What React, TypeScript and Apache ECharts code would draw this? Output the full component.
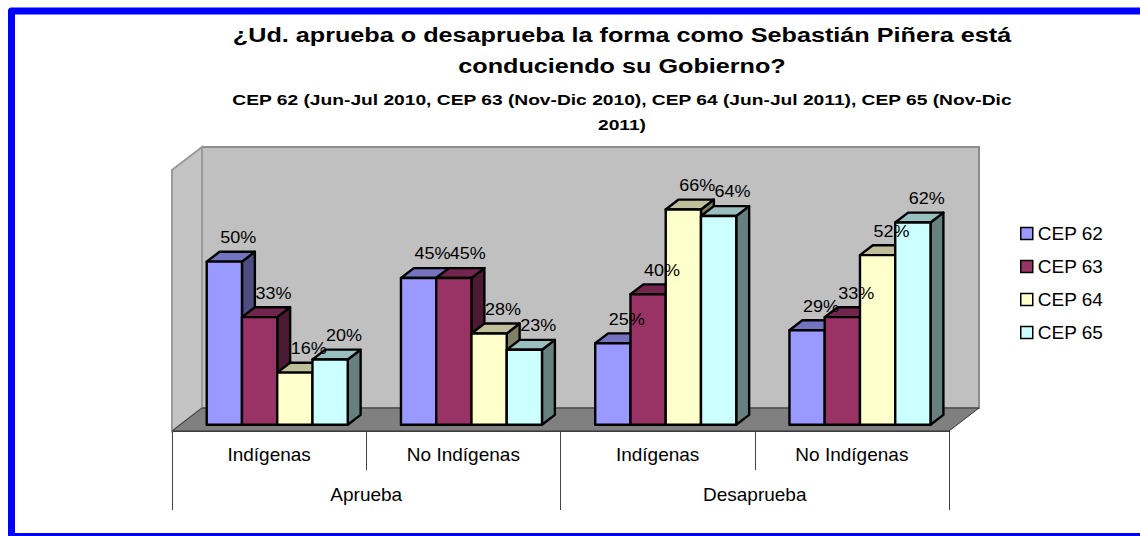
import React, { useEffect, useRef } from 'react';
import * as echarts from 'echarts';

const categories = ['Indígenas', 'No Indígenas', 'Indígenas', 'No Indígenas'];
const groups = ['Aprueba', 'Desaprueba'];
const seriesNames = ['CEP 62', 'CEP 63', 'CEP 64', 'CEP 65'];
const cep62 = [50, 45, 25, 29];
const cep63 = [33, 45, 40, 33];
const cep64 = [16, 28, 66, 52];
const cep65 = [20, 23, 64, 62];
const titleLines = ['¿Ud. aprueba o desaprueba la forma como Sebastián Piñera está', 'conduciendo su Gobierno?'];
const subtitleLines = ['CEP 62 (Jun-Jul 2010, CEP 63 (Nov-Dic 2010), CEP 64 (Jun-Jul 2011), CEP 65 (Nov-Dic', '2011)'];

const seriesValues = [cep62, cep63, cep64, cep65];
const faceColors = [
  { front: '#9999FF', top: '#7373BF', side: '#4D4D80' },
  { front: '#993366', top: '#73264D', side: '#4D1A33' },
  { front: '#FFFFCC', top: '#BFBF99', side: '#808066' },
  { front: '#CCFFFF', top: '#99BFBF', side: '#668080' },
];

const FONT = '"Liberation Sans", Arial, Helvetica, sans-serif';
const DEPTH_X = 30;
const DEPTH_Y = 23;
const FRONT_FRAC = 0.27;
const BAR_DEPTH_FRAC = 0.43;
const BAR_FRAC = 0.1815;

function wallsRender(params: any) {
  const cs = params.coordSys;
  const L = cs.x, T = cs.y, R = cs.x + cs.width, B = cs.y + cs.height;
  const dx = DEPTH_X, dy = DEPTH_Y;
  return {
    type: 'group',
    children: [
      {
        type: 'polygon',
        shape: { points: [[L + dx, T - dy], [R + dx, T - dy], [R + dx, B - dy], [L + dx, B - dy]] },
        style: { fill: '#C0C0C0', stroke: '#8C8C8C', lineWidth: 2 },
      },
      {
        type: 'polygon',
        shape: { points: [[L, T], [L + dx, T - dy], [L + dx, B - dy], [L, B]] },
        style: { fill: '#C4C4C4', stroke: '#9A9A9A', lineWidth: 2 },
      },
      {
        type: 'polygon',
        shape: { points: [[L, B], [L + dx, B - dy], [R + dx, B - dy], [R, B]] },
        style: { fill: '#808080', stroke: '#333', lineWidth: 1 },
      },
    ],
  };
}

function makeBarRender(s: number) {
  const col = faceColors[s];
  return function (params: any, api: any) {
    const cat = api.value(0);
    const v = api.value(1);
    const base = api.coord([cat, 0]);
    const top = api.coord([cat, v]);
    const cw = api.size([1, 0])[0];
    const bw = cw * BAR_FRAC;
    const fx = FRONT_FRAC * DEPTH_X;
    const fy = FRONT_FRAC * DEPTH_Y;
    const bdx = BAR_DEPTH_FRAC * DEPTH_X;
    const bdy = BAR_DEPTH_FRAC * DEPTH_Y;
    const x0 = base[0] - 2 * bw + s * bw + fx;
    const x1 = x0 + bw;
    const yb = base[1] - fy;
    const yt = top[1] - fy;
    const stroke = { stroke: '#000', lineWidth: 2.4, lineJoin: 'round' };
    return {
      type: 'group',
      children: [
        {
          type: 'polygon',
          shape: { points: [[x1, yt], [x1 + bdx, yt - bdy], [x1 + bdx, yb - bdy], [x1, yb]] },
          style: { fill: col.side, ...stroke },
        },
        {
          type: 'polygon',
          shape: { points: [[x0, yt], [x0 + bdx, yt - bdy], [x1 + bdx, yt - bdy], [x1, yt]] },
          style: { fill: col.top, ...stroke },
        },
        {
          type: 'rect',
          shape: { x: x0, y: yt, width: bw, height: yb - yt },
          style: { fill: col.front, ...stroke },
        },
        {
          type: 'text',
          x: (x0 + x1) / 2 + 14,
          y: yt - bdy - 6,
          scaleX: 1.06,
          z2: 100,
          style: {
            text: v + '%',
            fontSize: 17,
            fontFamily: FONT,
            fill: '#000',
            align: 'center',
            verticalAlign: 'bottom',
            textAlign: 'center',
            textVerticalAlign: 'bottom',
          },
        },
      ],
    };
  };
}

export default function App() {
  const ref = useRef<HTMLDivElement>(null);
  useEffect(() => {
    if (!ref.current) return;
    const chart = echarts.init(ref.current, undefined, { renderer: 'svg' });
    const titleText = (text: string, y: number, size: number, sx: number) => ({
      type: 'text',
      x: 622,
      y,
      scaleX: sx,
      style: {
        text,
        fontSize: size,
        fontWeight: 'bold',
        fontFamily: FONT,
        fill: '#000',
        align: 'center',
        verticalAlign: 'middle',
        textAlign: 'center',
        textVerticalAlign: 'middle',
      },
    });
    const option: any = {
      animation: false,
      backgroundColor: '#fff',
      graphic: [
        {
          type: 'rect',
          shape: { x: 11.5, y: 11, width: 1170, height: 525.5 },
          style: { fill: 'none', stroke: '#0000FF', lineWidth: 7, lineJoin: 'round' },
          z: 100,
        },
        titleText(titleLines[0], 35, 21, 1.2),
        titleText(titleLines[1], 66, 21, 1.2),
        titleText(subtitleLines[0], 100, 15, 1.28),
        titleText(subtitleLines[1], 125, 15, 1.28),
      ],
      grid: { left: 172, top: 170, width: 777, height: 261 },
      legend: {
        orient: 'vertical',
        left: 1015,
        top: 219,
        itemWidth: 12,
        itemHeight: 12,
        itemGap: 14,
        icon: 'rect',
        itemStyle: { borderColor: '#000', borderWidth: 1.5 },
        textStyle: { fontSize: 19, color: '#000', fontFamily: FONT },
        data: seriesNames,
      },
      xAxis: [
        {
          type: 'category',
          data: categories,
          position: 'bottom',
          offset: 0,
          axisLine: { show: true, lineStyle: { color: '#444', width: 1 } },
          axisTick: { show: true, length: 39, lineStyle: { color: '#444', width: 1 } },
          axisLabel: { margin: 14, fontSize: 19, color: '#000', fontFamily: FONT },
          splitLine: { show: false },
        },
        {
          type: 'category',
          data: groups,
          position: 'bottom',
          offset: 0,
          axisLine: { show: false },
          axisTick: { show: true, length: 79, lineStyle: { color: '#444', width: 1 } },
          axisLabel: { margin: 54, fontSize: 19, color: '#000', fontFamily: FONT },
          splitLine: { show: false },
        },
      ],
      yAxis: { type: 'value', min: 0, max: 80, show: false },
      series: [
        {
          type: 'custom',
          name: 'walls',
          z: 1,
          silent: true,
          clip: false,
          xAxisIndex: 0,
          yAxisIndex: 0,
          renderItem: wallsRender,
          data: [[0, 0]],
        },
        ...seriesNames.map((name, s) => ({
          type: 'custom',
          name,
          z: 2,
          clip: false,
          xAxisIndex: 0,
          yAxisIndex: 0,
          itemStyle: { color: faceColors[s].front },
          renderItem: makeBarRender(s),
          data: seriesValues[s].map((v, i) => [i, v]),
        })),
      ],
    };
    chart.setOption(option);
    return () => chart.dispose();
  }, []);
  return <div ref={ref} style={{ position: 'fixed', left: 0, top: 0, width: 1140, height: 536 }} />;
}
